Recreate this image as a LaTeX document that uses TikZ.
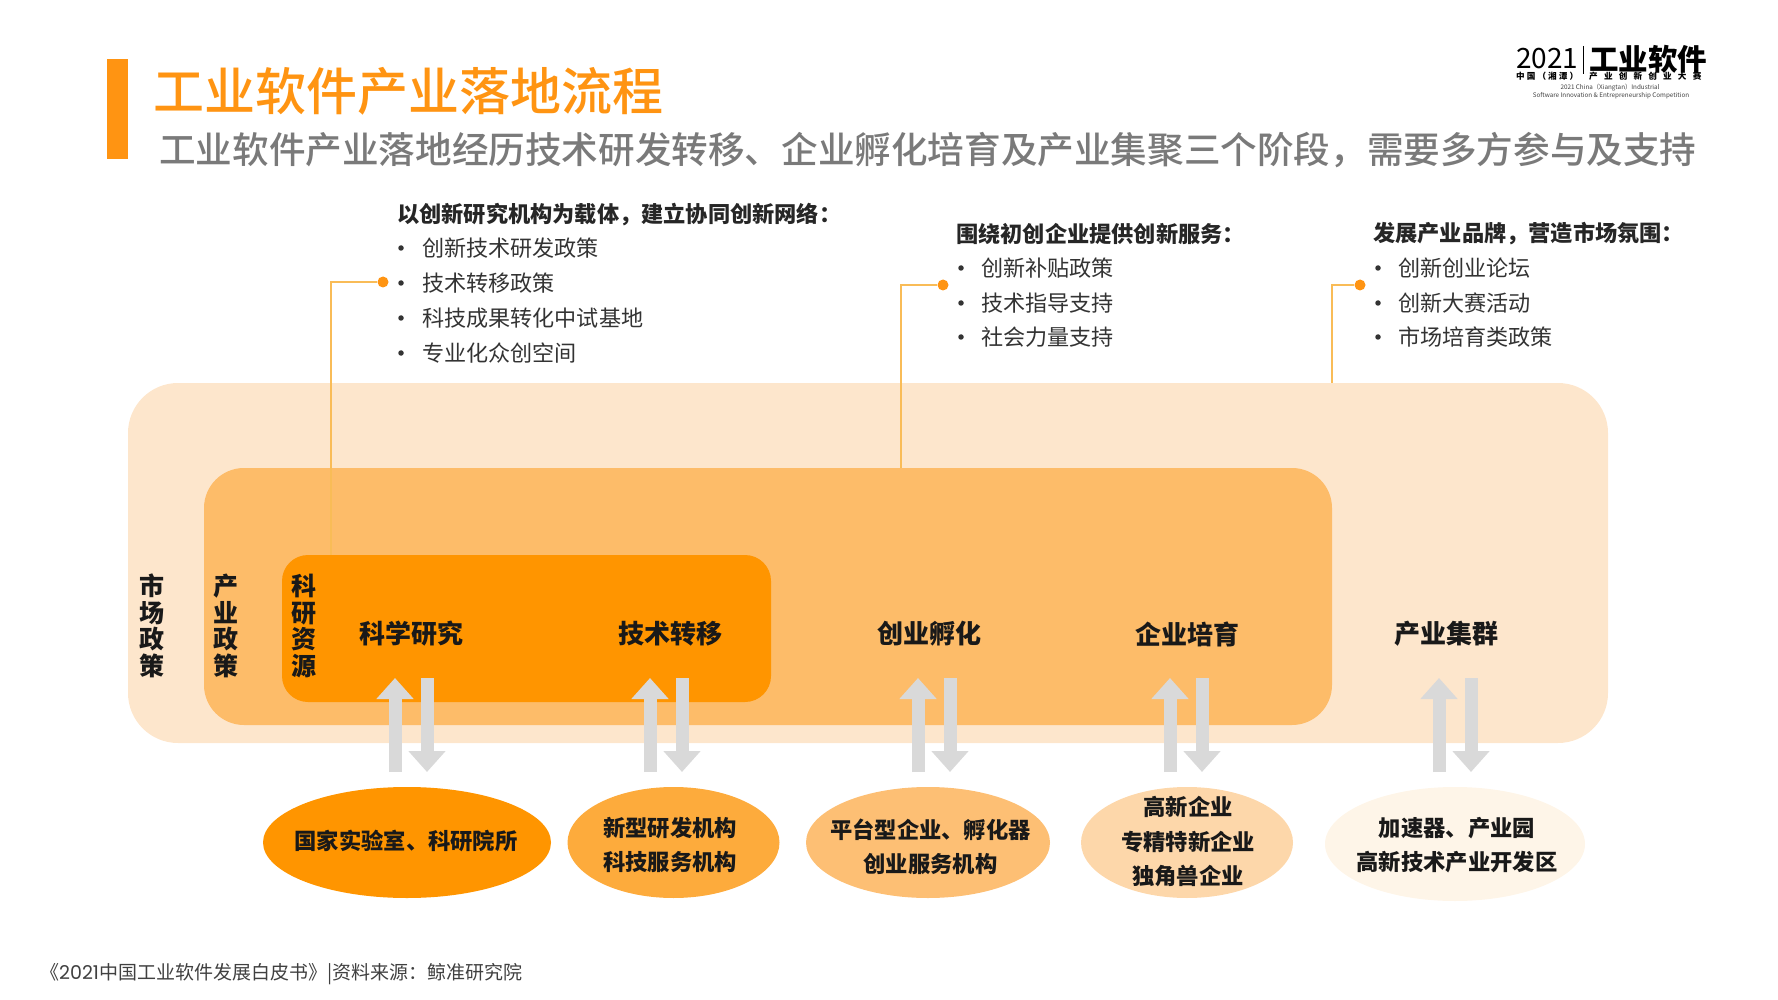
\documentclass[tikz,border=0pt]{standalone}
\usepackage{fontspec}
\setmainfont{Noto Sans CJK SC}
\newfontfamily\cjkmed{Noto Sans CJK SC Medium}
\newfontfamily\cjkblk{Noto Sans CJK SC Black}
\newfontfamily\popfont{Poppins}
\usetikzlibrary{arrows.meta,shapes.geometric}
\newcommand\fs[2]{\fontsize{#1}{#2}\selectfont}
\definecolor{oTitle}{HTML}{FF9412}
\definecolor{oOuter}{HTML}{FDE6CC}
\definecolor{oMid}{HTML}{FDBC69}
\definecolor{oIn}{HTML}{FF9500}
\definecolor{oE2}{HTML}{FDAB3C}
\definecolor{oE3}{HTML}{FDBF74}
\definecolor{oE4}{HTML}{FDD7AA}
\definecolor{oE5}{HTML}{FEF5E8}
\definecolor{aGray}{HTML}{D9D9D9}
\definecolor{leader}{HTML}{F9BC57}
\tikzset{
  plate/.style={rectangle,inner sep=0pt,fill=#1},
  oval/.style={ellipse,inner sep=0pt,fill=#1},
  ovaltext/.style={inner sep=0pt,align=center,font=\fs{22.3}{34.5}\bfseries,text=black!90},
  vtext/.style={inner sep=0pt,align=center,font=\fs{25}{26.6}\bfseries,text=black!90},
  stage/.style={inner sep=0pt,font=\fs{26}{30}\bfseries,text=black!90},
  head/.style={inner sep=0pt,anchor=west,font=\fs{22.2}{26}\bfseries,text=black!85},
  item/.style={inner sep=0pt,anchor=west,font=\fs{22.1}{26},text=black!80},
  bul/.style={circle,inner sep=0pt,minimum size=5.5pt,fill=black!80},
  pin/.style={circle,inner sep=0pt,minimum size=11pt,fill=oTitle},
  lead/.style={draw=leader,line width=1.4pt},
  flow/.style={draw=aGray,line width=13pt,-{Triangle[width=36pt,length=21pt]}},
  logo/.style={inner sep=0pt,text=black}
}
\begin{document}
\begin{tikzpicture}[x=1pt,y=-1pt]
\useasboundingbox (0,0) rectangle (1778,1000);
% header
\node[plate=oTitle,minimum width=21pt,minimum height=100pt] (bar) at (117.5,109) {};
\node[inner sep=0pt,anchor=west,text=oTitle,font=\fs{51}{56}\cjkmed] (title) at (153,91) {工业软件产业落地流程};
\node[inner sep=0pt,anchor=west,text=black!52,font=\fs{36.6}{40}\cjkmed] (sub) at (159,150) {工业软件产业落地经历技术研发转移、企业孵化培育及产业集聚三个阶段，需要多方参与及支持};
% logo
\node[logo,anchor=west,font=\fs{28}{30}] (l2021) at (1516,59) {2021};
\draw[black,line width=0.8pt] (1583,46) -- (1583,74);
\node[logo,anchor=west,font=\fs{29.5}{30}\cjkblk] (lsw) at (1589,59) {工业软件};
\node[logo,anchor=west,font={\fs{8.6}{10}\bfseries\addfontfeatures{LetterSpace=24}}] (lcn) at (1516,76) {中国（湘潭）};
\node[logo,anchor=west,font={\fs{8.6}{10}\bfseries\addfontfeatures{LetterSpace=72}}] (lcomp) at (1589,76) {产业创新创业大赛};
\node[logo,text=black!75,font=\fs{6.3}{8}] (len1) at (1610,88) {2021 China（Xiangtan）Industrial};
\node[logo,text=black!75,font=\fs{6.3}{8}] (len2) at (1611,96) {Software Innovation \& Entrepreneurship Competition};
% nested plates
\node[plate=oOuter,rounded corners=50pt,minimum width=1480pt,minimum height=360pt] (outer) at (868,563) {};
\node[plate=oMid,rounded corners=40pt,minimum width=1128pt,minimum height=257pt] (mid) at (768,596.5) {};
\node[plate=oIn,rounded corners=26pt,minimum width=489pt,minimum height=147pt] (inner) at (526.5,628.5) {};
% vertical labels
\node[vtext] (v1) at (152,626) {市\\场\\政\\策};
\node[vtext] (v2) at (226,626) {产\\业\\政\\策};
\node[vtext] (v3) at (304,626) {科\\研\\资\\源};
% stage labels
\node[stage] (s1) at (411,634) {科学研究};
\node[stage] (s2) at (670,634) {技术转移};
\node[stage] (s3) at (929,634) {创业孵化};
\node[stage] (s4) at (1187,634) {企业培育};
\node[stage] (s5) at (1446,634) {产业集群};
% ellipses
\node[oval=oIn,minimum width=288pt,minimum height=111pt] (e1) at (407,842.5) {};
\node[oval=oE2,minimum width=212pt,minimum height=111pt] (e2) at (673.5,842.5) {};
\node[oval=oE3,minimum width=244pt,minimum height=111pt] (e3) at (928,842.5) {};
\node[oval=oE4,minimum width=212pt,minimum height=111pt] (e4) at (1187,842.5) {};
\node[oval=oE5,minimum width=260pt,minimum height=114pt] (e5) at (1455,844) {};
\node[ovaltext] (et1) at (406,841) {国家实验室、科研院所};
\node[ovaltext] (et2) at (670,845) {新型研发机构\\科技服务机构};
\node[ovaltext] (et3) at (930.5,847) {平台型企业、孵化器\\创业服务机构};
\node[ovaltext] (et4) at (1188,842) {高新企业\\专精特新企业\\独角兽企业};
\node[ovaltext] (et5) at (1457,845) {加速器、产业园\\高新技术产业开发区};
% flow arrows
\foreach \u/\d/\i in {395/427/1,650/682/2,918/950/3,1170/1202/4,1439/1471/5}{
  \coordinate (a\i) at (\u,772);
  \coordinate (b\i) at (\u,678);
  \coordinate (c\i) at (\d,678);
  \coordinate (f\i) at (\d,772);
  \draw[flow] (a\i) -- (b\i);
  \draw[flow] (c\i) -- (f\i);
}
% group 1
\node[head] (h1) at (397,214.5) {以创新研究机构为载体，建立协同创新网络：};
\node[bul] (b11) at (401,248) {};
\node[bul] (b12) at (401,283) {};
\node[bul] (b13) at (401,318) {};
\node[bul] (b14) at (401,353) {};
\node[item] (t11) at (422,248.5) {创新技术研发政策};
\node[item] (t12) at (422,283) {技术转移政策};
\node[item] (t13) at (422,318) {科技成果转化中试基地};
\node[item] (t14) at (422,353) {专业化众创空间};
% group 2
\node[head] (h2) at (956,233.5) {围绕初创企业提供创新服务：};
\node[bul] (b21) at (961,268) {};
\node[bul] (b22) at (961,303) {};
\node[bul] (b23) at (961,337) {};
\node[item] (t21) at (981,268) {创新补贴政策};
\node[item] (t22) at (981,303) {技术指导支持};
\node[item] (t23) at (981,337) {社会力量支持};
% group 3
\node[head] (h3) at (1373,233.5) {发展产业品牌，营造市场氛围：};
\node[bul] (b31) at (1378,268) {};
\node[bul] (b32) at (1378,303) {};
\node[bul] (b33) at (1378,337) {};
\node[item] (t31) at (1398,268) {创新创业论坛};
\node[item] (t32) at (1398,303) {创新大赛活动};
\node[item] (t33) at (1398,337) {市场培育类政策};
% leaders
\node[pin] (p1) at (383,282) {};
\node[pin] (p2) at (943,285) {};
\node[pin] (p3) at (1360,285) {};
\coordinate (q1) at (331,555);
\coordinate (q2) at (901,468);
\coordinate (q3) at (1332,383);
\draw[lead] (p1) -| (q1);
\draw[lead] (p2) -| (q2);
\draw[lead] (p3) -| (q3);
% footer
\node[inner sep=0pt,anchor=west,text=black!75,font=\fs{19}{22}] (foot) at (40,974) {《{\popfont 2021}中国工业软件发展白皮书》|资料来源：鲸准研究院};
\end{tikzpicture}
\end{document}
